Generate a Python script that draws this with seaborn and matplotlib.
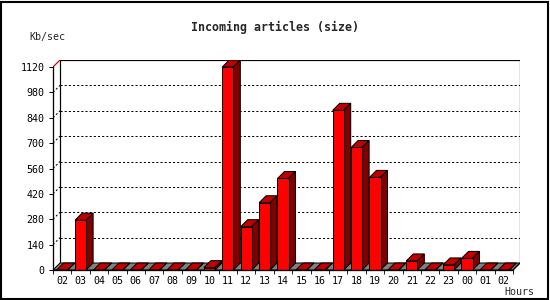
import matplotlib
matplotlib.use("Agg")
import matplotlib.pyplot as plt
from matplotlib.patches import Polygon, Rectangle
import seaborn as sns
import pandas as pd

# ---- data ----
hours = ["02", "03", "04", "05", "06", "07", "08", "09", "10", "11", "12", "13",
         "14", "15", "16", "17", "18", "19", "20", "21", "22", "23", "00", "01", "02"]
kbps = [0, 275, 0, 0, 0, 0, 0, 0, 13, 1120, 239, 371,
        505, 0, 0, 881, 676, 511, 0, 50, 0, 28, 64, 0, 0]
yticks = [0, 140, 280, 420, 560, 700, 840, 980, 1120]
title = "Incoming articles (size)"
ylabel = "Kb/sec"
xlabel = "Hours"

sns.set_style("white")
plt.rcParams["font.family"] = ["DejaVu Sans Mono"]
plt.rcParams["lines.scale_dashes"] = False
plt.rcParams["axes.unicode_minus"] = False

W, H = 550, 300
fig = plt.figure(figsize=(W / 100, H / 100), dpi=100)
fig.patch.set_facecolor("white")

# axes geometry in pixels
ax_left, ax_right, ax_bottom, ax_top = 53, 520, 270, 60
ax = fig.add_axes([ax_left / W, 1 - ax_bottom / H, (ax_right - ax_left) / W, (ax_bottom - ax_top) / H])

slot_px = 18.4
ypx_per_unit = 203.0 / 1120.0
depth = 7.0
dx = depth / slot_px
dy = depth / ypx_per_unit
xmax = -0.5 + (ax_right - ax_left) / slot_px
ymax = (ax_bottom - ax_top) / ypx_per_unit

df = pd.DataFrame({"slot": list(range(len(hours))), "kbps": kbps})
sns.barplot(data=df, x="slot", y="kbps", ax=ax, color="#ff0000", saturation=1,
            width=0.6, edgecolor="black", linewidth=0.75)

ax.set_xlim(-0.5, xmax)
ax.set_ylim(0, ymax)
ax.set_facecolor("none")

px = 0.72  # one pixel in points
n = len(hours)
back_l, back_r = -0.5 + dx, n - 0.5 + dx

# back plane gridlines (dotted) and left connectors
for lv in yticks[1:-1]:
    ax.plot([back_l, back_r], [lv + dy, lv + dy], color="black", lw=px,
            linestyle=(0, (1.5, 1.5)), zorder=1)
    ax.plot([-0.5, back_l], [lv, lv + dy], color="black", lw=px,
            linestyle=(0, (1.5, 1.5)), zorder=1)

# back plane frame
top = yticks[-1] + dy
ax.plot([back_l, back_l], [dy, top], color="black", lw=px * 1.2, zorder=1)
ax.plot([back_r, back_r], [dy, top], color="black", lw=px * 1.2, zorder=1)
onepx = 1 / ypx_per_unit
ax.plot([back_l, back_r], [top, top], color="black", lw=px * 1.2, zorder=1)
ax.plot([back_l, back_r], [top + onepx, top + onepx], color="#d00000", lw=px * 1.2, zorder=1)
ax.plot([-0.5, back_l], [yticks[-1], top], color="#d00000", lw=px * 1.2, zorder=1)

# floor
floor = Polygon([(-0.5, 0), (n - 0.5, 0), (n - 0.5 + dx, dy), (-0.5 + dx, dy)],
                closed=True, facecolor="#808080", edgecolor="black", lw=px, zorder=2)
ax.add_patch(floor)

# 3D faces derived from seaborn's bars
bars = list(ax.patches)[:-1]
for i, p in enumerate(bars):
    x0, w, h = p.get_x(), p.get_width(), p.get_height()
    z = 3 + i * 0.01
    p.set_zorder(z + 0.003)
    topf = Polygon([(x0, h), (x0 + w, h), (x0 + w + dx, h + dy), (x0 + dx, h + dy)],
                   closed=True, facecolor="#c00000", edgecolor="black", lw=px, zorder=z + 0.001)
    side = Polygon([(x0 + w, 0), (x0 + w + dx, dy), (x0 + w + dx, h + dy), (x0 + w, h)],
                   closed=True, facecolor="#800000", edgecolor="black", lw=px, zorder=z + 0.002)
    ax.add_patch(topf)
    ax.add_patch(side)

# right floor diagonal
ax.plot([n - 0.5, n - 0.5 + dx], [0, dy], color="black", lw=px * 1.2, zorder=5)

# spines
for s in ["top", "right"]:
    ax.spines[s].set_visible(False)
ax.spines["left"].set_bounds(0, yticks[-1])
ax.spines["bottom"].set_bounds(-0.5, n - 0.5)
for s in ["left", "bottom"]:
    ax.spines[s].set_color("black")
    ax.spines[s].set_linewidth(px * 1.3)
    ax.spines[s].set_zorder(6)

# ticks
ax.set_yticks(yticks)
ax.set_yticklabels([str(v) for v in yticks])
ax.tick_params(axis="y", direction="out", length=3, width=px, pad=3, labelsize=7.2,
               colors="black", left=True)
ax.set_xticks(range(n))
ax.set_xticklabels(hours)
ax.set_xticks([i - 0.5 for i in range(n + 1)], minor=True)
ax.tick_params(axis="x", which="major", length=0, pad=4, labelsize=7.2, colors="black")
ax.tick_params(axis="x", which="minor", direction="out", length=3, width=px, bottom=True)
ax.set_xlabel("")
ax.set_ylabel("")
ax.grid(False)

# texts
fig.text(275 / W, 1 - 27 / H, title, ha="center", va="center", fontsize=8.4,
         fontweight="bold", family="DejaVu Sans Mono")
fig.text(29 / W, 1 - 37 / H, ylabel, ha="left", va="center", fontsize=7.2)
fig.text(504 / W, 1 - 292 / H, xlabel, ha="left", va="center", fontsize=7.2)

# outer border
fig.patches.append(Rectangle((1 / W, 1 / H), 547 / W, 297.5 / H, transform=fig.transFigure,
                             fill=False, edgecolor="black", lw=1.5, zorder=10))

fig.savefig("out.png", dpi=100, facecolor="white")
